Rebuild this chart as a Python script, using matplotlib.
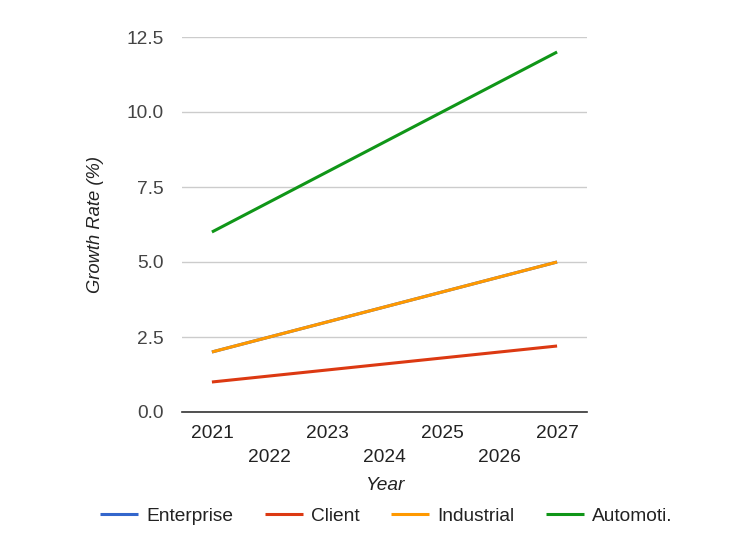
import matplotlib
matplotlib.use("Agg")
import matplotlib.pyplot as plt

years = ["2021", "2022", "2023", "2024", "2025", "2026", "2027"]
enterprise = [2.0, 2.5, 3.0, 3.5, 4.0, 4.5, 5.0]
client = [1.0, 1.2, 1.4, 1.6, 1.8, 2.0, 2.2]
industrial = [2.0, 2.5, 3.0, 3.5, 4.0, 4.5, 5.0]
automotive = [6.0, 7.0, 8.0, 9.0, 10.0, 11.0, 12.0]
series_names = ["Enterprise", "Client", "Industrial", "Automoti."]
colors = ["#3366cc", "#dc3912", "#ff9900", "#109618"]
y_ticks = [0.0, 2.5, 5.0, 7.5, 10.0, 12.5]

plt.rcParams['font.family'] = ['Liberation Sans', 'DejaVu Sans']
FS = 13.8

fig = plt.figure(figsize=(7.5, 5.36), dpi=100)
ax = fig.add_axes([182/750, 1-412/536, (587-182)/750, (412-37)/536])

x = list(range(len(years)))
for vals, name, c in zip([enterprise, client, industrial, automotive], series_names, colors):
    ax.plot(x, vals, color=c, lw=2.2, label=name, solid_capstyle='butt')

ax.set_xlim(-0.52, len(years) - 0.48)
ax.set_ylim(0, 12.5)
ax.set_yticks(y_ticks)
ax.set_yticklabels([f"{v:.1f}" for v in y_ticks], fontsize=FS, color="#444444")
ax.set_xticks(x)
ax.set_xticklabels([y if i % 2 == 0 else "\n" + y for i, y in enumerate(years)],
                   fontsize=FS, color="#222222", linespacing=1.55)
ax.tick_params(axis='both', length=0)
ax.tick_params(axis='y', pad=13)
ax.tick_params(axis='x', pad=9)
ax.grid(axis='y', color="#cccccc", lw=1)
ax.set_axisbelow(True)
for s in ['top', 'right', 'left']:
    ax.spines[s].set_visible(False)
ax.spines['bottom'].set_color("#333333")
ax.spines['bottom'].set_linewidth(1.2)

ax.set_ylabel("Growth Rate (%)", fontsize=13.2, style='italic', color="#222222", labelpad=16)
ax.set_xlabel("Year", fontsize=FS, style='italic', color="#222222", labelpad=8)

fig.legend(loc='center', bbox_to_anchor=(386/750, 1-516/536), ncol=4, frameon=False,
           fontsize=FS, handlelength=2.0, columnspacing=1.65, handletextpad=0.4,
           labelcolor="#222222")

fig.savefig("out.png", dpi=100)
